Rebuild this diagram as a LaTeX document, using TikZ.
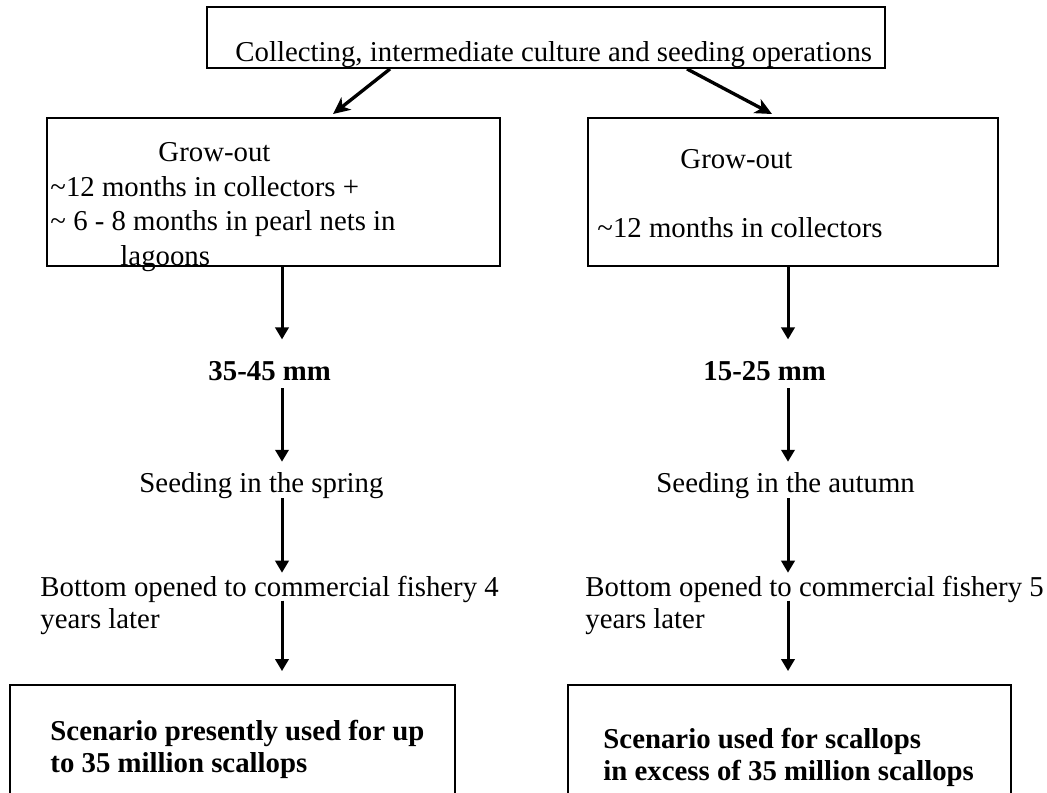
\documentclass[tikz,border=0pt]{standalone}
\usepackage{fontspec}
\setmainfont{Liberation Serif}
\usetikzlibrary{arrows.meta,positioning}
\definecolor{fcInk}{HTML}{000000}
\tikzset{
  stage/.style={draw=fcInk, line width=0.8pt, inner sep=0pt},
  lbl/.style={inner sep=0pt, anchor=base west, text height=8.2pt, text depth=0pt, font=\fontsize{12}{14}\selectfont},
  lblB/.style={lbl, font=\fontsize{12}{14}\selectfont\bfseries},
  arr/.style={-{Triangle[length=5pt,width=5.5pt]}, line width=1.25pt, draw=fcInk},
  darr/.style={-{Stealth[length=7pt,width=6.5pt,inset=2pt]}, line width=1.4pt, draw=fcInk},
}

\begin{document}
\begin{tikzpicture}[x=0.4167pt, y=-0.4167pt]
  \useasboundingbox (0,0) rectangle (1047,793);
  \clip (0,0) rectangle (1047,793);
  % boxes
  \node[stage, minimum width=282.5pt, minimum height=25.4pt] (src) at (546,37.5) {};
  \node[stage, minimum width=188.7pt, minimum height=61.7pt] (growL) at (273.5,192) {};
  \node[stage, minimum width=170.8pt, minimum height=61.7pt] (growR) at (793,192) {};
  \node[stage, minimum width=185.4pt, minimum height=60.4pt] (scenL) at (232.5,757.5) {};
  \node[stage, minimum width=184.6pt, minimum height=60.4pt] (scenR) at (789.5,757.5) {};
  \coordinate (colL) at (282,0);
  \coordinate (colR) at (788,0);
  % texts
  \node[lbl] (srcT) at (235,62) {Collecting, intermediate culture and seeding operations};
  \node[lbl] (growL1) at (158,161) {Grow-out};
  \node[lbl] (growL2) at (50,196) {\textasciitilde12 months in collectors +};
  \node[lbl] (growL3) at (50,230) {\textasciitilde{} 6 - 8 months in pearl nets in};
  \node[lbl] (growL4) at (120,265) {lagoons};
  \node[lbl] (growR1) at (680,168) {Grow-out};
  \node[lbl] (growR2) at (597,237) {\textasciitilde12 months in collectors};
  \node[lblB] (sizeL) at (208,380) {35-45 mm};
  \node[lblB] (sizeR) at (703,380) {15-25 mm};
  \node[lbl] (seedL) at (139,492) {Seeding in the spring};
  \node[lbl] (seedR) at (656,492) {Seeding in the autumn};
  \node[lbl] (openL) at (40,596) {Bottom opened to commercial fishery 4};
  \node[lbl] (yrsL) at (40,628) {years later};
  \node[lbl] (openR) at (585,596) {Bottom opened to commercial fishery 5};
  \node[lbl] (yrsR) at (585,628) {years later};
  \node[lblB] (scenL1) at (50,740) {Scenario presently used for up};
  \node[lblB] (scenL2) at (50,772) {to 35 million scallops};
  \node[lblB] (scenR1) at (603,748) {Scenario used for scallops};
  \node[lblB] (scenR2) at (603,780) {in excess of 35 million scallops};
  % arrows
  \draw[darr] ([xshift=-65pt]src.south) -- ([xshift=24.8pt,yshift=1.25pt]growL.north);
  \draw[darr] ([xshift=58.75pt]src.south) -- ([xshift=-8.75pt,yshift=1.25pt]growR.north);
  \foreach \c in {L,R}
    \foreach \u/\v/\s/\t in {grow/size/0pt/8.5pt, size/seed/3.3pt/4.2pt, seed/open/2.5pt/1.3pt, open/scen/1.7pt/5.4pt}
      \draw[arr, shorten <=\s, shorten >=\t] (\u\c.south -| col\c) -- (\v\c.north -| col\c);
\end{tikzpicture}
\end{document}
